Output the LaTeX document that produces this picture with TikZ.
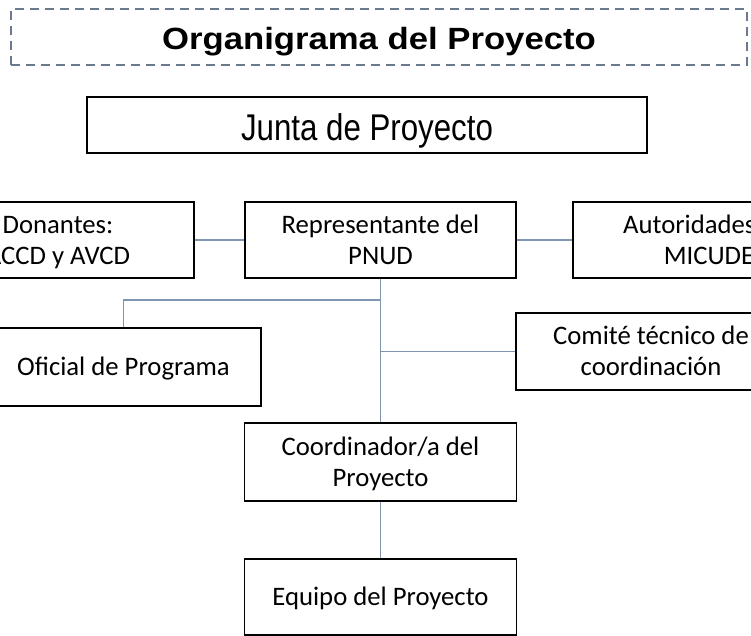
\documentclass[tikz,border=0pt]{standalone}
\usepackage{fontspec}
\usepackage{graphicx}
\setmainfont{Carlito}
\newfontfamily\arialfont{Liberation Sans}
\definecolor{conn}{HTML}{8096B0}
\definecolor{dashc}{HTML}{6A7990}
\newcommand\bxs{\rule[-6.9pt]{0pt}{31pt}}
\begin{document}
\begin{tikzpicture}[x=1pt,y=-1pt,
  box/.style={draw=black, line width=1.8pt, inner sep=0pt, align=center,
    font=\fontsize{26.7}{31}\selectfont},
  conline/.style={draw=conn, line width=1.3pt}]
\useasboundingbox (0,0) rectangle (751,635);
\clip (0,0) rectangle (751,635);
% title
\node[draw=dashc, dash pattern=on 9pt off 6pt, line width=2pt,
  minimum width=736pt, minimum height=56pt, inner sep=0pt,
  font=\arialfont\bfseries\fontsize{30.7}{36}\selectfont] (title) at (379,37)
  {\rule[-8pt]{0pt}{40pt}\scalebox{1.13}[1]{Organigrama del Proyecto}};
% junta
\node[box, line width=2.2pt, minimum width=560pt, minimum height=56pt,
  font=\arialfont\fontsize{37.2}{44}\selectfont] (junta) at (367,125)
  {\rule[-6.15pt]{0pt}{44pt}\scalebox{0.84}[1]{Junta de Proyecto}};
% boxes
\node[box, minimum width=272pt, minimum height=76pt] (don) at (58,240)
  {\bxs Donantes:\\\bxs ACCD y AVCD};
\node[box, minimum width=271pt, minimum height=76pt] (rep) at (380.5,240)
  {\bxs Representante del\\\bxs PNUD};
\node[box, minimum width=272pt, minimum height=76pt] (autor) at (709,240)
  {\bxs Autoridades del\\\bxs MICUDE};
\node[box, minimum width=275pt, minimum height=78pt] (oficial) at (123.5,367)
  {\bxs Oficial de Programa};
\node[box, minimum width=270pt, minimum height=77pt] (comite) at (651,351.5)
  {\bxs Comité técnico de\\\bxs coordinación};
\node[box, minimum width=272pt, minimum height=78pt] (coord) at (380.5,462)
  {\bxs Coordinador/a del\\\bxs Proyecto};
\node[box, minimum width=272pt, minimum height=76pt] (equipo) at (380.5,597)
  {\bxs Equipo del Proyecto};
% connectors
\draw[conline] (don.east) -- (rep.west);
\draw[conline] (rep.east) -- (autor.west);
\draw[conline] (rep.south) -- (coord.north);
\coordinate (jo) at (380.5,300);
\draw[conline] (oficial.north) |- (jo);
\draw[conline] (comite.west) -- (comite.west -| rep.south);
\draw[conline] (coord.south) -- (equipo.north);
\end{tikzpicture}
\end{document}
